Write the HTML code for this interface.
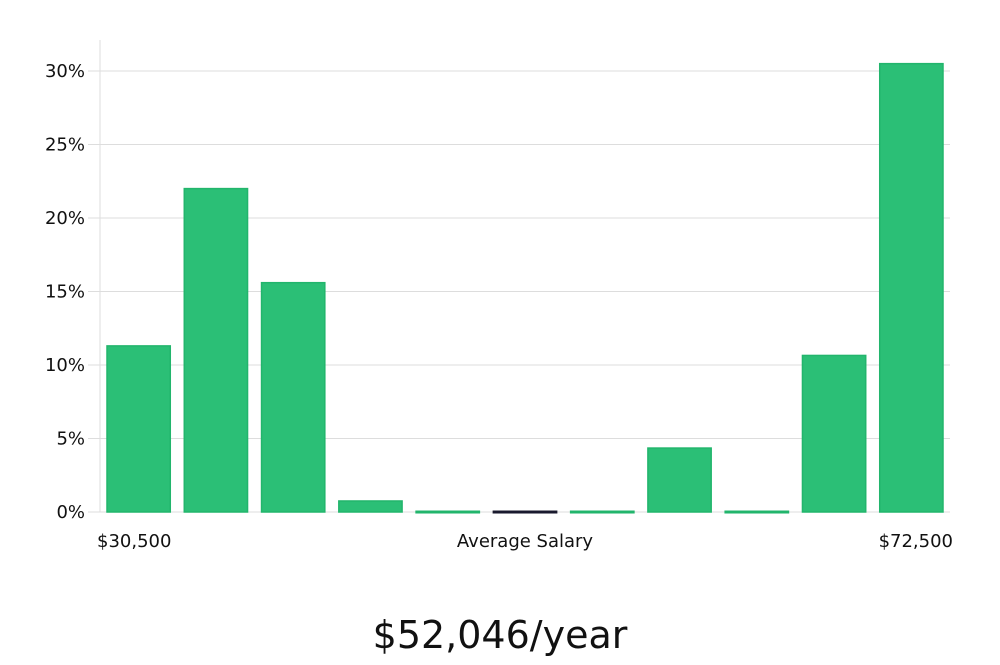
<!DOCTYPE html>
<html><head><meta charset="utf-8"><style>
body{margin:0;background:#fff;font-family:"Liberation Sans","DejaVu Sans",sans-serif}
svg text{font-family:"DejaVu Sans","Liberation Sans",sans-serif}
</style></head><body>
<svg id="c" width="1000" height="660"></svg>
<script>
const categories=["b1","b2","b3","b4","b5","b6","b7","b8","b9","b10","b11"];
const values=[11.3,22.0,15.6,0.75,0.05,0.05,0.05,4.35,0.05,10.65,30.5];
const barColors=["g","g","g","g","g","d","g","g","g","g","g"];
const yTicks=[0,5,10,15,20,25,30];
const xLabels=["$30,500","Average Salary","$72,500"];
const x0=100,x1=950,y0=512,yTop=71,yMax=30;
const ns="http://www.w3.org/2000/svg",svg=document.getElementById('c');
const yS=v=>y0-(v/yMax)*(y0-yTop);
const slot=(x1-x0)/categories.length;
function el(t,a,txt){const e=document.createElementNS(ns,t);for(const k in a)e.setAttribute(k,a[k]);if(txt!=null)e.textContent=txt;svg.appendChild(e);return e;}
const ax=el('line',{x1:x0,y1:40,x2:x0,y2:y0,stroke:'#ddd'});


yTicks.forEach(t=>{
 const g=el('line',{x1:x0-12,x2:x1,y1:yS(t),y2:yS(t),stroke:'#ddd'});
 
 
 const l=el('text',{x:85,y:yS(t)+6,'text-anchor':'end','font-size':18,fill:'#111'},t+'%');
 
 
});
categories.forEach((c,i)=>{
 const v=values[i],bx=x0+i*slot+7,bw=slot-14,top=yS(v);
 const dark=barColors[i]==="d";
 const r=el('rect',{x:bx,y:top,width:bw,height:Math.max(y0-top,1.5),fill:dark?'#1a1a2e':'#2bbf76',stroke:dark?'#1a1a2e':'#22b56c','stroke-width':1.5});
 
 
});
[[97,'start'],[525,'middle'],[953,'end']].forEach((p,i)=>{
 const t=el('text',{x:p[0],y:547,'text-anchor':p[1],'font-size':18,fill:'#111'},xLabels[i]);
 
 
});
const s=el('text',{x:500,y:648,'text-anchor':'middle','font-size':38,fill:'#111','font-family':'Liberation Sans Narrow, DejaVu Sans Condensed, sans-serif'},'$52,046/year');


</script>
</body></html>
